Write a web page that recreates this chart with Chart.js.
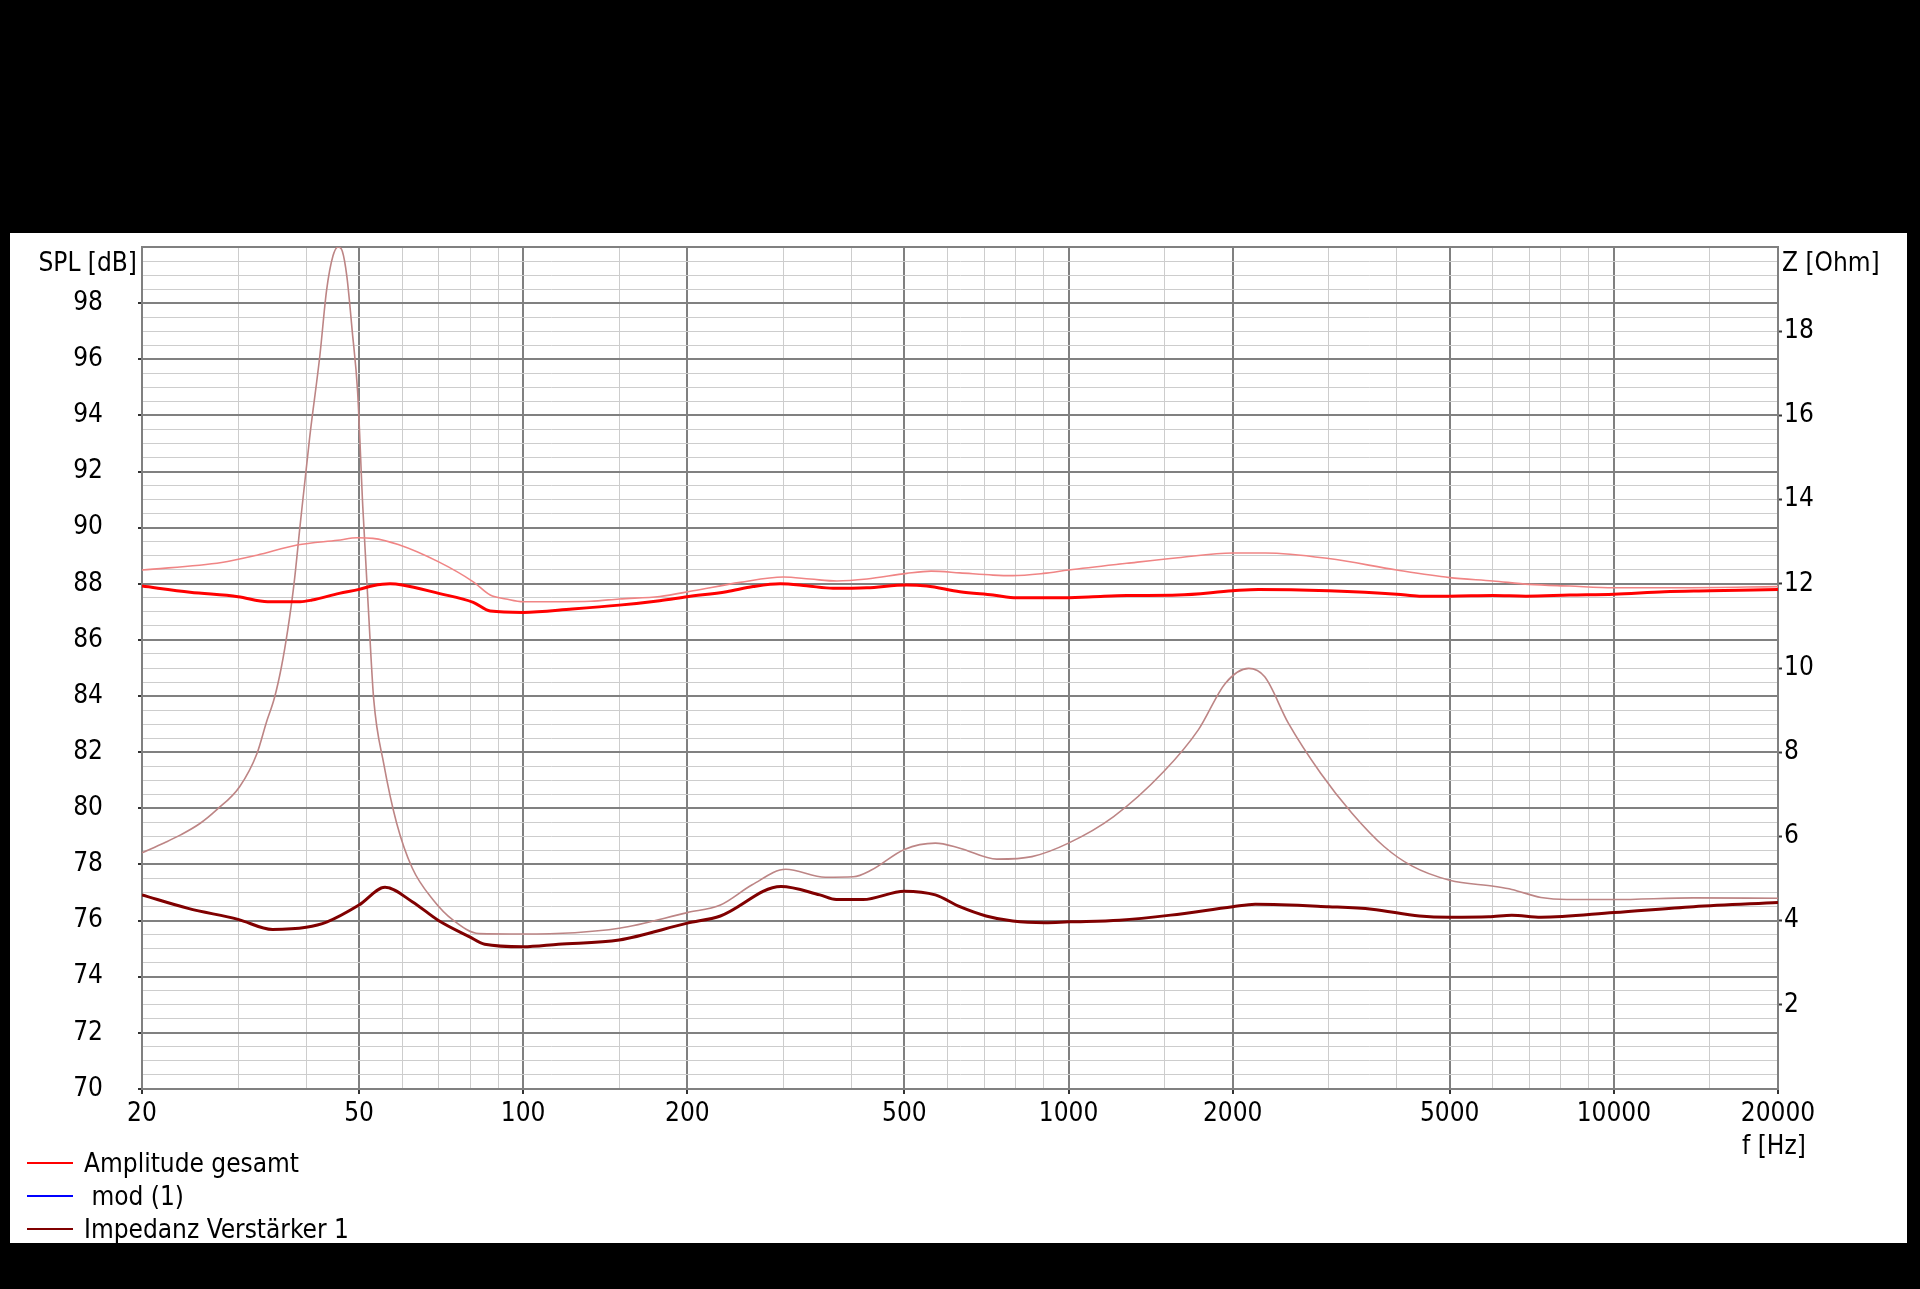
<!DOCTYPE html>
<html>
<head>
<meta charset="utf-8">
<script src="https://cdn.jsdelivr.net/npm/chart.js@4.4.1/dist/chart.umd.min.js"></script>
<style>
  html, body { margin: 0; padding: 0; background: #000; width: 1920px; height: 1289px; overflow: hidden; }
  #panel { position: absolute; left: 10px; top: 233px; width: 1897px; height: 1010px; background: #fff; }
  #chart { position: absolute; left: 0; top: 0; }
  .lbl { position: absolute; font-family: 'DejaVu Sans Condensed', 'DejaVu Sans', sans-serif; font-size: 26px; color: #000; white-space: pre; line-height: 30px; }
  .leg { position: absolute; left: 27px; height: 30px; }
  .leg i { position: absolute; left: 0; top: 14px; width: 46px; height: 2px; }
  .leg span { position: absolute; left: 57px; top: 0; white-space: pre; }
</style>
</head>
<body>
<div id="panel">
  <canvas id="chart" width="1897" height="1010"></canvas>
</div>
<div class="lbl" id="ytitle" style="right:1783px; top:247px;">SPL [dB]</div>
<div class="lbl" id="ztitle" style="left:1782px; top:247px;">Z [Ohm]</div>
<div class="lbl" id="xtitle" style="left:1742px; top:1130px;">f [Hz]</div>
<div id="legend"></div>
<script>
// ---------- data ----------
const xMajorTicks = [20, 50, 100, 200, 500, 1000, 2000, 5000, 10000, 20000];
const xMinorTicks = [30, 40, 60, 70, 80, 90, 150, 300, 400, 600, 700, 800, 900, 1500, 3000, 4000, 6000, 7000, 8000, 9000, 15000];
const splTicks = [70, 72, 74, 76, 78, 80, 82, 84, 86, 88, 90, 92, 94, 96, 98];
const zTicks = [2, 4, 6, 8, 10, 12, 14, 16, 18];

// Amplitude gesamt (SPL, dB)
const ampFreq = [20, 24.5, 30, 34, 39, 41, 46, 50, 53, 57, 60, 70, 81, 87, 100, 123, 150, 178, 200, 236, 264, 296, 331, 370, 427, 505, 550, 632, 727, 804, 965, 1109, 1279, 1588, 2000, 2230, 3000, 4000, 4400, 5000, 6000, 6900, 8300, 10000, 12400, 15000, 20000];
const ampSpl  = [87.92, 87.7, 87.54, 87.36, 87.36, 87.42, 87.66, 87.8, 87.93, 88.0, 87.96, 87.66, 87.34, 87.03, 86.98, 87.1, 87.24, 87.4, 87.54, 87.72, 87.9, 88.0, 87.93, 87.84, 87.86, 87.96, 87.92, 87.72, 87.6, 87.5, 87.5, 87.54, 87.58, 87.6, 87.75, 87.8, 87.75, 87.63, 87.56, 87.56, 87.58, 87.56, 87.6, 87.63, 87.72, 87.75, 87.8];

// second SPL trace (thin, light red)
const refFreq = [20, 28, 32.5, 38.5, 45.7, 49.7, 53, 59, 70, 81, 87, 93, 100, 133, 150, 178, 205, 250, 300, 336, 376, 427, 505, 560, 632, 727, 790, 900, 1000, 1279, 1588, 2000, 2300, 3000, 4000, 5000, 6000, 7000, 8300, 10000, 13500, 20000];
const refSpl  = [88.49, 88.76, 89.02, 89.38, 89.55, 89.64, 89.62, 89.4, 88.78, 88.07, 87.6, 87.46, 87.36, 87.38, 87.46, 87.55, 87.75, 88.05, 88.24, 88.17, 88.1, 88.17, 88.37, 88.45, 88.39, 88.31, 88.29, 88.37, 88.49, 88.73, 88.93, 89.1, 89.1, 88.9, 88.49, 88.22, 88.1, 87.98, 87.92, 87.86, 87.86, 87.9];

// Impedanz Verstärker 1 (Ohm)
const impFreq = [20, 24.3, 30, 34.7, 40, 43.7, 50, 55.8, 62.6, 69.8, 79.6, 85, 100, 116, 150, 200, 230, 297, 350, 375, 420, 500, 570, 632, 706, 790, 906, 1000, 1240, 1540, 2000, 2200, 3000, 3600, 4400, 5000, 5900, 6500, 7350, 10000, 14000, 20000];
const impOhm  = [4.61, 4.29, 4.03, 3.79, 3.84, 3.97, 4.37, 4.79, 4.45, 4.01, 3.62, 3.44, 3.38, 3.44, 3.54, 3.94, 4.11, 4.81, 4.61, 4.5, 4.5, 4.7, 4.61, 4.33, 4.11, 3.99, 3.95, 3.97, 4.01, 4.13, 4.33, 4.39, 4.33, 4.27, 4.11, 4.08, 4.09, 4.13, 4.08, 4.19, 4.33, 4.43];

// driver impedance trace (thin, rosy)
const drvFreq = [20, 22, 23.5, 25.5, 27.4, 30.2, 32.5, 33.8, 35, 36, 37, 38, 39, 40.6, 42.4, 43.6, 44.8, 45.8, 46.6, 47.5, 48.6, 49.7, 50.8, 52, 53.2, 55.5, 58.6, 62.6, 68.4, 74.4, 83, 100, 150, 200, 230, 263, 303, 358, 403, 435, 500, 570, 632, 739, 857, 1000, 1210, 1495, 1730, 1940, 2140, 2290, 2530, 2900, 3310, 3790, 4260, 5000, 6060, 6500, 7350, 8200, 10000, 14000, 20000];
const drvOhm  = [5.61, 5.85, 6.03, 6.3, 6.63, 7.18, 7.97, 8.7, 9.3, 10.0, 10.9, 12.0, 13.4, 15.48, 17.44, 18.97, 19.79, 20.0, 19.9, 19.3, 17.99, 16.57, 13.84, 11.44, 9.26, 7.73, 6.32, 5.25, 4.49, 4.01, 3.69, 3.68, 3.82, 4.19, 4.37, 4.85, 5.22, 5.03, 5.04, 5.2, 5.69, 5.84, 5.72, 5.46, 5.52, 5.84, 6.47, 7.54, 8.53, 9.64, 9.99, 9.79, 8.69, 7.5, 6.55, 5.76, 5.3, 4.96, 4.81, 4.74, 4.55, 4.5, 4.5, 4.54, 4.53];

const legendNames = ['Amplitude gesamt', ' mod (1)', 'Impedanz Verstärker 1'];
const legendColors = ['#ff0000', '#0000ff', '#800000'];

// ---------- chart ----------
const FONT = "'DejaVu Sans Condensed', 'DejaVu Sans', sans-serif";
Chart.defaults.font.family = FONT;
Chart.defaults.font.size = 26;
Chart.defaults.color = '#000';

const pairs = (xs, ys) => xs.map((x, i) => ({ x: x, y: ys[i] }));
const MAJOR = '#808080', MINOR = '#cdcdcd';
const isMajorX = v => xMajorTicks.includes(v);
const isMajorY = v => Math.abs(v / 2 - Math.round(v / 2)) < 1e-9;

const splGrid = [];
for (let i = 0; i <= 60; i++) splGrid.push(70 + i * 0.5);
const xGrid = xMajorTicks.concat(xMinorTicks).sort((a, b) => a - b);

const noPad = s => { s.paddingTop = 0; s.paddingBottom = 0; s.paddingLeft = 0; s.paddingRight = 0; };

const line = (label, data, color, width, axis) => ({
  label, data, borderColor: color, backgroundColor: color, borderWidth: width,
  pointRadius: 0, fill: false, yAxisID: axis, cubicInterpolationMode: 'monotone'
});

new Chart(document.getElementById('chart'), {
  type: 'line',
  data: {
    datasets: [
      line(legendNames[0], pairs(ampFreq, ampSpl), legendColors[0], 3, 'y'),
      line(legendNames[1], [], legendColors[1], 3, 'y'),
      line(legendNames[2], pairs(impFreq, impOhm), legendColors[2], 3, 'z'),
      line('SPL (Vergleich)', pairs(refFreq, refSpl), '#f08585', 1.6, 'y'),
      line('Impedanz (Vergleich)', pairs(drvFreq, drvOhm), '#bd8585', 1.6, 'z')
    ]
  },
  options: {
    responsive: false,
    animation: false,
    layout: { padding: { top: 14, left: 0, right: 0, bottom: 0 } },
    plugins: { legend: { display: false }, tooltip: { enabled: false } },
    scales: {
      x: {
        type: 'logarithmic', position: 'bottom', min: 20, max: 20000,
        afterBuildTicks: s => { s.ticks = xGrid.map(v => ({ value: v })); },
        afterFit: s => { s.height = 154; noPad(s); },
        ticks: {
          autoSkip: false, maxRotation: 0, minRotation: 0, padding: 5,
          callback: v => isMajorX(v) ? String(v) : ''
        },
        grid: {
          color: c => (c.tick && isMajorX(c.tick.value)) ? MAJOR : MINOR,
          lineWidth: c => (c.tick && isMajorX(c.tick.value)) ? 2 : 1,
          tickLength: 5, tickWidth: 2,
          tickColor: c => (c.tick && isMajorX(c.tick.value)) ? '#333' : 'rgba(0,0,0,0)'
        },
        border: { display: true, color: MAJOR, width: 2 }
      },
      y: {
        type: 'linear', position: 'left', min: 70, max: 100,
        afterBuildTicks: s => { s.ticks = splGrid.map(v => ({ value: v })); },
        afterFit: s => { s.width = 132; noPad(s); },
        ticks: {
          autoSkip: false, padding: 35,
          callback: v => splTicks.includes(v) ? String(v) : ''
        },
        grid: {
          color: c => (c.tick && isMajorY(c.tick.value)) ? MAJOR : MINOR,
          lineWidth: c => (c.tick && isMajorY(c.tick.value)) ? 2 : 1,
          tickLength: 4, tickWidth: 2,
          tickColor: c => (c.tick && splTicks.includes(c.tick.value)) ? '#333' : 'rgba(0,0,0,0)'
        },
        border: { display: true, color: MAJOR, width: 2 }
      },
      z: {
        type: 'linear', position: 'right', min: 0, max: 20,
        afterBuildTicks: s => { s.ticks = zTicks.map(v => ({ value: v })); },
        afterFit: s => { s.width = 129; noPad(s); },
        ticks: { autoSkip: false, padding: 2, callback: v => String(v) },
        grid: { drawOnChartArea: false, tickLength: 4, tickWidth: 2, tickColor: '#333' },
        border: { display: true, color: MAJOR, width: 2 }
      }
    }
  }
});

// ---------- HTML legend ----------
const legend = document.getElementById('legend');
const legendY = [1148, 1181, 1214];
legendNames.forEach((name, i) => {
  const row = document.createElement('div');
  row.className = 'lbl leg';
  row.style.top = legendY[i] + 'px';
  row.innerHTML = '<i style="background:' + legendColors[i] + '"></i><span></span>';
  row.querySelector('span').textContent = name;
  legend.appendChild(row);
});
</script>
</body>
</html>
